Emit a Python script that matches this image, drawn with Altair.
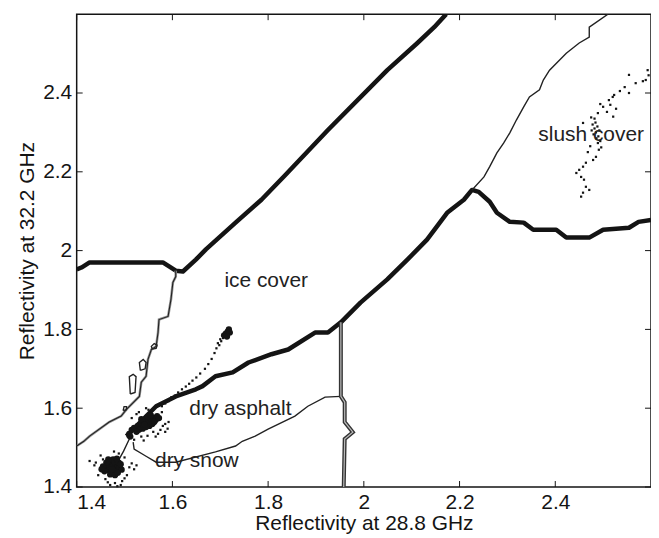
import altair as alt
import pandas as pd

# ---------------- data ----------------
# decision boundaries
ice_top_x = [1.400, 1.410, 1.427, 1.580, 1.607, 1.622, 1.649, 1.670, 1.732, 1.786, 1.836, 1.925, 2.049, 2.112, 2.147, 2.172]
ice_top_y = [1.952, 1.957, 1.970, 1.970, 1.949, 1.947, 1.977, 2.003, 2.071, 2.129, 2.192, 2.306, 2.458, 2.527, 2.567, 2.600]

ice_left_x = [1.607, 1.607, 1.601, 1.597, 1.591, 1.572, 1.570, 1.566, 1.556, 1.549, 1.545, 1.535, 1.531, 1.504, 1.493, 1.468, 1.427, 1.415, 1.400]
ice_left_y = [1.949, 1.934, 1.919, 1.876, 1.833, 1.825, 1.792, 1.757, 1.749, 1.724, 1.681, 1.666, 1.630, 1.597, 1.580, 1.565, 1.529, 1.516, 1.504]

asphalt_x = [1.504, 1.566, 1.607, 1.649, 1.663, 1.690, 1.726, 1.759, 1.807, 1.842, 1.898, 1.925, 1.952, 1.993, 2.049, 2.091, 2.132, 2.174, 2.209, 2.226,
             2.240, 2.263, 2.278, 2.305, 2.334, 2.354, 2.402, 2.423, 2.471, 2.500, 2.554, 2.574, 2.600]
asphalt_y = [1.529, 1.605, 1.630, 1.648, 1.656, 1.681, 1.691, 1.716, 1.737, 1.749, 1.792, 1.792, 1.818, 1.868, 1.927, 1.977, 2.028, 2.096, 2.129, 2.154,
             2.149, 2.124, 2.096, 2.073, 2.071, 2.053, 2.053, 2.033, 2.033, 2.053, 2.058, 2.073, 2.078]

slush_x = [2.226, 2.251, 2.263, 2.278, 2.292, 2.305, 2.319, 2.334, 2.346, 2.367, 2.375, 2.388, 2.423, 2.450, 2.471, 2.471, 2.510]
slush_y = [2.154, 2.187, 2.213, 2.248, 2.273, 2.299, 2.332, 2.365, 2.390, 2.408, 2.433, 2.458, 2.501, 2.527, 2.542, 2.567, 2.600]

vertical_x = [1.952, 1.952, 1.960, 1.960, 1.977, 1.960, 1.958]
vertical_y = [1.818, 1.630, 1.615, 1.565, 1.539, 1.522, 1.400]

snow_x = [1.518, 1.520, 1.545, 1.566, 1.607, 1.690, 1.732, 1.746, 1.773, 1.800, 1.856, 1.883, 1.919, 1.952]
snow_y = [1.514, 1.496, 1.478, 1.463, 1.463, 1.489, 1.504, 1.516, 1.529, 1.547, 1.580, 1.605, 1.628, 1.630]

link_x = [1.504, 1.510, 1.498, 1.483]
link_y = [1.529, 1.522, 1.491, 1.458]

# small closed contour islands
islands = {
    "a": ([1.558, 1.566, 1.568, 1.562, 1.556, 1.558], [1.750, 1.752, 1.760, 1.764, 1.757, 1.750]),
    "b": ([1.533, 1.543, 1.545, 1.539, 1.531, 1.533], [1.696, 1.700, 1.716, 1.724, 1.716, 1.696]),
    "c": ([1.512, 1.522, 1.524, 1.518, 1.510, 1.512], [1.636, 1.640, 1.680, 1.686, 1.680, 1.636]),
    "d": ([1.497, 1.504, 1.504, 1.499, 1.497], [1.594, 1.596, 1.604, 1.604, 1.594]),
}

# measured points: dense cores
core_x = [1.460, 1.465, 1.470, 1.475, 1.480, 1.485, 1.478, 1.468, 1.472, 1.482, 1.490, 1.488, 1.462, 1.455, 1.458, 1.476, 1.484, 1.494, 1.470, 1.480, 1.466, 1.452, 1.492, 1.474, 1.486,
          1.510, 1.515, 1.520, 1.528, 1.535, 1.540, 1.545, 1.550, 1.555, 1.560, 1.565, 1.552, 1.545, 1.538, 1.530, 1.558, 1.568, 1.548, 1.535, 1.525, 1.512, 1.562, 1.542, 1.555, 1.572,
          1.708, 1.712, 1.716, 1.718, 1.720, 1.714]
core_y = [1.448, 1.455, 1.460, 1.452, 1.447, 1.455, 1.465, 1.442, 1.438, 1.440, 1.450, 1.462, 1.462, 1.452, 1.440, 1.470, 1.472, 1.444, 1.432, 1.430, 1.470, 1.445, 1.458, 1.445, 1.436,
          1.535, 1.545, 1.550, 1.555, 1.560, 1.565, 1.570, 1.565, 1.572, 1.575, 1.570, 1.555, 1.552, 1.548, 1.545, 1.560, 1.580, 1.578, 1.572, 1.540, 1.528, 1.565, 1.558, 1.582, 1.575,
          1.785, 1.790, 1.795, 1.800, 1.792, 1.782]

# measured points: sparse
pts_x = [1.440, 1.445, 1.500, 1.510, 1.520, 1.505, 1.495, 1.480, 1.470, 1.485, 1.460, 1.455, 1.450, 1.515, 1.478, 1.488, 1.500, 1.465, 1.492, 1.525, 1.427, 1.437,
         1.575, 1.580, 1.585, 1.570, 1.560, 1.548, 1.535, 1.520, 1.540, 1.585, 1.590, 1.565, 1.525, 1.515, 1.555, 1.545, 1.578, 1.592, 1.530, 1.550,
         1.578, 1.585, 1.592, 1.598, 1.605, 1.612, 1.620, 1.628, 1.635, 1.642, 1.650, 1.658, 1.668, 1.675, 1.682, 1.688, 1.692, 1.698, 1.702, 1.706, 1.700, 1.695,
         2.478, 2.482, 2.485, 2.480, 2.488, 2.490, 2.484, 2.476, 2.492, 2.486, 2.494, 2.482,
         2.500, 2.512, 2.520, 2.515, 2.527, 2.523, 2.554, 2.568, 2.583, 2.589, 2.593, 2.595, 2.554, 2.494, 2.508, 2.521, 2.489, 2.458, 2.475, 2.535, 2.545,
         2.489, 2.491, 2.485, 2.479, 2.464, 2.458, 2.450, 2.454, 2.460, 2.464, 2.471, 2.458, 2.454, 2.444, 2.468, 2.473, 2.496]
pts_y = [1.462, 1.430, 1.475, 1.450, 1.445, 1.430, 1.415, 1.410, 1.405, 1.402, 1.420, 1.470, 1.480, 1.460, 1.490, 1.485, 1.422, 1.412, 1.405, 1.455, 1.466, 1.455,
         1.545, 1.555, 1.540, 1.535, 1.540, 1.530, 1.528, 1.520, 1.518, 1.560, 1.548, 1.528, 1.585, 1.575, 1.590, 1.600, 1.590, 1.565, 1.590, 1.596,
         1.605, 1.612, 1.618, 1.628, 1.632, 1.640, 1.648, 1.655, 1.662, 1.670, 1.678, 1.688, 1.700, 1.712, 1.725, 1.740, 1.752, 1.760, 1.770, 1.778, 1.775, 1.765,
         2.320, 2.310, 2.300, 2.295, 2.315, 2.290, 2.325, 2.305, 2.305, 2.285, 2.278, 2.335,
         2.365, 2.382, 2.390, 2.370, 2.360, 2.395, 2.400, 2.425, 2.430, 2.433, 2.458, 2.445, 2.446, 2.372, 2.352, 2.340, 2.349, 2.324, 2.338, 2.405, 2.415,
         2.273, 2.256, 2.238, 2.230, 2.223, 2.213, 2.205, 2.187, 2.180, 2.162, 2.154, 2.147, 2.137, 2.197, 2.250, 2.265, 2.262]

labels_text = ["ice cover", "slush cover", "dry asphalt", "dry snow"]
labels_x = [1.796, 2.475, 1.742, 1.651]
labels_y = [1.922, 2.294, 1.597, 1.466]

tick_values = [1.4, 1.6, 1.8, 2.0, 2.2, 2.4]
domain = [1.4, 2.6]

# ---------------- build tables ----------------
def line_df(name, xs, ys):
    return pd.DataFrame({"x": xs, "y": ys, "seg": name, "ord": list(range(len(xs)))})

thick_df = pd.concat([line_df("ice_top", ice_top_x, ice_top_y),
                      line_df("asphalt", asphalt_x, asphalt_y)])
thin_df = pd.concat([line_df("slush", slush_x, slush_y),
                     line_df("snow", snow_x, snow_y),
                     line_df("link", link_x, link_y)]
                    + [line_df("isl_" + k, v[0], v[1]) for k, v in islands.items()])
double_df = line_df("ice_left", ice_left_x, ice_left_y)
vert_df = line_df("vertical", vertical_x, vertical_y)
core_df = pd.DataFrame({"x": core_x, "y": core_y})
pts_df = pd.DataFrame({"x": pts_x, "y": pts_y})
lab_df = pd.DataFrame({"t": labels_text, "x": labels_x, "y": labels_y})
ticks_df = pd.DataFrame({"v": tick_values})

W, H = 577, 475
FONT = "Liberation Sans"
INK = "#141414"
FS = 21

xs = alt.Scale(domain=domain, nice=False, zero=False)
ys = alt.Scale(domain=domain, nice=False, zero=False)

X = alt.X("x:Q", scale=xs,
          axis=alt.Axis(values=tick_values, ticks=False, domain=False, grid=False,
                        labelFontSize=FS, labelFont=FONT, labelColor=INK, labelPadding=5,
                        labelExpr="datum.value == 2 ? '2' : format(datum.value, '.1f')",
                        title="Reflectivity at 28.8 GHz", titleFontSize=FS, titleFont=FONT,
                        titleFontWeight="normal", titleColor=INK, titlePadding=0))
Y = alt.Y("y:Q", scale=ys,
          axis=alt.Axis(values=tick_values, ticks=False, domain=False, grid=False,
                        labelFontSize=FS, labelFont=FONT, labelColor=INK, labelPadding=5,
                        labelExpr="datum.value == 2 ? '2' : format(datum.value, '.1f')",
                        title="Reflectivity at 32.2 GHz", titleFontSize=FS, titleFont=FONT,
                        titleFontWeight="normal", titleColor=INK, titlePadding=5))

base_x = alt.X("x:Q", scale=xs)
base_y = alt.Y("y:Q", scale=ys)

thick = alt.Chart(thick_df).mark_line(color=INK, strokeWidth=4.5, strokeJoin="round", clip=True).encode(
    x=X, y=Y, detail="seg:N", order="ord:Q")
thin = alt.Chart(thin_df).mark_line(color="#222222", strokeWidth=1.4, clip=True).encode(
    x=base_x, y=base_y, detail="seg:N", order="ord:Q")
dbl_outer = alt.Chart(double_df).mark_line(color="#999999", strokeWidth=2.6, clip=True).encode(
    x=base_x, y=base_y, order="ord:Q")
dbl_inner = alt.Chart(double_df).mark_line(color="#222222", strokeWidth=1.1, clip=True).encode(
    x=base_x, y=base_y, order="ord:Q")
vert_outer = alt.Chart(vert_df).mark_line(color="#333333", strokeWidth=4, clip=True).encode(
    x=base_x, y=base_y, order="ord:Q")
vert_inner = alt.Chart(vert_df).mark_line(color="#bbbbbb", strokeWidth=1.2, clip=True).encode(
    x=base_x, y=base_y, order="ord:Q")

core = alt.Chart(core_df).mark_circle(color=INK, size=40, opacity=1).encode(x=base_x, y=base_y)
pts = alt.Chart(pts_df).mark_square(color=INK, size=5, opacity=1).encode(x=base_x, y=base_y)

texts = alt.Chart(lab_df).mark_text(font=FONT, fontSize=FS, color="#222222", baseline="middle", align="center").encode(
    x=base_x, y=base_y, text="t:N")

TL = 6
tick_b = alt.Chart(ticks_df).mark_rule(color=INK, strokeWidth=1).encode(
    x=alt.X("v:Q", scale=xs), y=alt.value(H), y2=alt.value(H - TL))
tick_t = alt.Chart(ticks_df).mark_rule(color=INK, strokeWidth=1).encode(
    x=alt.X("v:Q", scale=xs), y=alt.value(0), y2=alt.value(TL))
tick_l = alt.Chart(ticks_df).mark_rule(color=INK, strokeWidth=1).encode(
    y=alt.Y("v:Q", scale=ys), x=alt.value(0), x2=alt.value(TL))
tick_r = alt.Chart(ticks_df).mark_rule(color=INK, strokeWidth=1).encode(
    y=alt.Y("v:Q", scale=ys), x=alt.value(W), x2=alt.value(W - TL))

chart = alt.layer(thick, dbl_outer, dbl_inner, thin, vert_outer, vert_inner, pts, core, texts,
                  tick_b, tick_t, tick_l, tick_r).properties(
    width=W, height=H,
    autosize=alt.AutoSizeParams(type="none"),
    padding={"left": 69, "top": 5, "right": 0, "bottom": 50},
    background="white",
).configure_view(stroke=INK, strokeWidth=1.5)

chart.save("out.html", embed_options={"renderer": "svg", "actions": False})
